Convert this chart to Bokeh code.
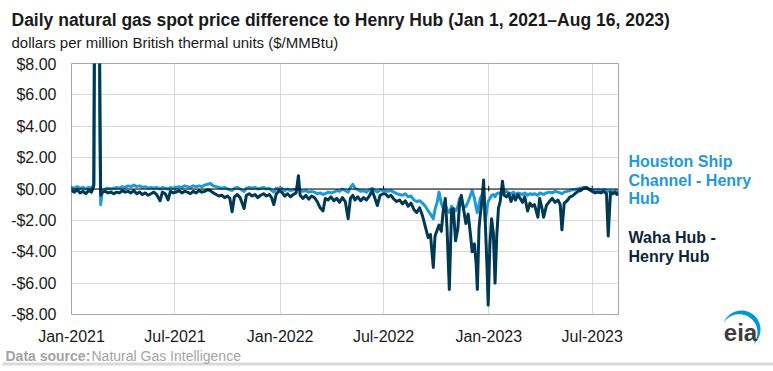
import numpy as np
import pandas as pd
from bokeh.plotting import figure
from bokeh.layouts import column, row
from bokeh.models import (Range1d, FixedTicker, DatetimeTickFormatter, Span, Label,
                          ColumnDataSource)
from bokeh.embed import file_html
from bokeh.resources import INLINE

# ---------------- data ----------------
dates = [
    "2021-01-01","2021-01-06","2021-01-11","2021-01-16","2021-01-21","2021-01-26","2021-01-31","2021-02-05","2021-02-09","2021-02-11","2021-02-14","2021-02-17","2021-02-19","2021-02-21","2021-02-24",
    "2021-03-01","2021-03-06","2021-03-11","2021-03-16","2021-03-21","2021-03-26","2021-03-31",
    "2021-04-05","2021-04-10","2021-04-15","2021-04-20","2021-04-25","2021-04-30",
    "2021-05-05","2021-05-10","2021-05-15","2021-05-20","2021-05-25","2021-05-30",
    "2021-06-05","2021-06-09","2021-06-14","2021-06-19","2021-06-23","2021-06-28",
    "2021-07-03","2021-07-08","2021-07-13","2021-07-18","2021-07-23","2021-07-28",
    "2021-08-02","2021-08-07","2021-08-12","2021-08-17","2021-08-22","2021-08-27",
    "2021-09-01","2021-09-06","2021-09-11","2021-09-16","2021-09-21","2021-09-26",
    "2021-10-01","2021-10-05","2021-10-09","2021-10-13","2021-10-18","2021-10-23","2021-10-30",
    "2021-11-03","2021-11-08","2021-11-13","2021-11-18","2021-11-23","2021-11-28",
    "2021-12-03","2021-12-08","2021-12-13","2021-12-17","2021-12-21","2021-12-25","2021-12-30",
    "2022-01-04","2022-01-09","2022-01-14","2022-01-19","2022-01-24","2022-01-29","2022-02-02","2022-02-05","2022-02-10","2022-02-15","2022-02-20","2022-02-25",
    "2022-03-02","2022-03-07","2022-03-12","2022-03-17","2022-03-21","2022-03-26","2022-03-31",
    "2022-04-05","2022-04-10","2022-04-15","2022-04-20","2022-04-25","2022-04-30",
    "2022-05-04","2022-05-08","2022-05-12","2022-05-17","2022-05-22","2022-05-27",
    "2022-06-01","2022-06-06","2022-06-11","2022-06-16","2022-06-20","2022-06-25","2022-06-30",
    "2022-07-04","2022-07-09","2022-07-14","2022-07-19","2022-07-24","2022-07-29",
    "2022-08-03","2022-08-08","2022-08-13","2022-08-18","2022-08-23","2022-08-28",
    "2022-09-02","2022-09-07","2022-09-12","2022-09-17","2022-09-21","2022-09-26","2022-09-29",
    "2022-10-03","2022-10-06","2022-10-10","2022-10-13","2022-10-17","2022-10-20","2022-10-24","2022-10-28","2022-10-31",
    "2022-11-04","2022-11-08","2022-11-11","2022-11-14","2022-11-18","2022-11-22","2022-11-26","2022-11-30",
    "2022-12-03","2022-12-07","2022-12-10","2022-12-12","2022-12-15","2022-12-17","2022-12-20","2022-12-23","2022-12-26","2022-12-29","2022-12-31",
    "2023-01-03","2023-01-06","2023-01-09","2023-01-12","2023-01-15","2023-01-18","2023-01-21","2023-01-25","2023-01-28",
    "2023-02-01","2023-02-05","2023-02-09","2023-02-13","2023-02-17","2023-02-21","2023-02-25",
    "2023-03-01","2023-03-05","2023-03-10","2023-03-14","2023-03-18","2023-03-22","2023-03-28","2023-03-31",
    "2023-04-04","2023-04-07","2023-04-12","2023-04-17","2023-04-22","2023-04-27",
    "2023-05-02","2023-05-06","2023-05-09","2023-05-13","2023-05-18","2023-05-23","2023-05-27",
    "2023-06-01","2023-06-06","2023-06-11","2023-06-16","2023-06-21","2023-06-26",
    "2023-07-01","2023-07-06","2023-07-11","2023-07-16","2023-07-21","2023-07-26","2023-07-29",
    "2023-08-02","2023-08-06","2023-08-10","2023-08-13","2023-08-16",
]

houston = [
    0.10,0.05,0.15,0.05,0.10,0.00,0.10,0.05,0.30,20,150,60,5,-1.0,-0.1,
    0.0,0.05,0.0,0.05,0.10,0.05,0.15,
    0.10,0.20,0.15,0.25,0.15,0.20,
    0.10,0.15,0.05,0.10,0.05,0.10,
    0.0,0.10,0.05,0.00,0.10,0.05,
    0.10,0.15,0.10,0.20,0.15,0.10,
    0.20,0.15,0.20,0.15,0.25,0.30,
    0.35,0.20,0.15,0.10,0.05,0.10,
    0.0,-0.05,-0.1,0.05,0.10,0.0,-0.15,
    0.05,0.10,0.05,0.10,0.0,0.05,
    0.10,0.0,0.05,-0.1,-0.2,0.05,0.0,
    0.05,-0.10,0.0,-0.10,-0.05,0.0,0.05,-0.10,-0.15,-0.10,-0.20,-0.15,
    -0.20,-0.30,-0.25,-0.35,-0.30,-0.20,-0.25,
    -0.20,-0.10,-0.15,0.0,-0.10,-0.20,
    0.10,0.30,0.05,-0.05,-0.15,-0.10,
    -0.20,-0.05,0.05,-0.10,-0.20,-0.05,-0.10,
    -0.10,-0.15,-0.10,-0.20,-0.30,-0.35,
    -0.40,-0.30,-0.50,-0.45,-0.70,-0.80,
    -0.75,-0.90,-1.10,-1.40,-1.60,-1.90,-1.30,
    -0.80,-0.20,-0.90,-1.20,-1.00,-1.30,-1.50,-1.10,-1.30,
    -1.40,-1.10,-0.60,-0.70,-1.20,-1.10,-0.80,-0.40,
    -0.10,-0.60,-1.20,-1.50,-1.00,-0.60,-0.40,-0.20,-2.10,-1.20,-0.80,
    -0.60,-0.40,-0.35,-0.50,-0.30,-0.25,-0.30,-0.10,-0.20,
    -0.15,-0.25,-0.30,-0.20,-0.35,-0.25,-0.30,
    -0.35,-0.25,-0.40,-0.30,-0.35,-0.30,-0.40,-0.25,
    -0.30,-0.35,-0.25,-0.20,-0.25,-0.15,
    -0.20,-0.25,-0.30,-0.20,-0.15,-0.10,-0.05,
    -0.05,0.00,0.05,0.10,0.05,0.00,
    -0.05,-0.10,-0.05,-0.10,-0.05,-0.10,-0.15,
    -0.10,-0.15,-0.10,-0.15,-0.10,
]

waha = [
    -0.10,-0.20,-0.05,-0.25,-0.15,-0.30,-0.10,-0.20,0.20,15,180,100,10,-0.40,-0.20,
    -0.15,-0.25,-0.20,-0.30,-0.20,-0.25,-0.10,
    -0.20,-0.15,-0.25,-0.10,-0.30,-0.20,
    -0.35,-0.25,-0.40,-0.30,-0.20,-0.35,
    -0.75,-0.20,-0.30,-0.70,-0.15,-0.25,
    -0.20,-0.10,-0.25,-0.15,-0.20,-0.30,
    -0.15,-0.25,-0.10,-0.20,-0.15,-0.05,
    -0.10,-0.25,-0.35,-0.45,-0.40,-0.55,
    -0.45,-0.60,-1.45,-0.50,-0.35,-0.55,-1.25,
    -0.40,-0.30,-0.45,-0.35,-0.55,-0.40,
    -0.30,-0.45,-0.35,-0.55,-1.0,-0.35,-0.10,
    -0.20,-0.45,-0.30,-0.50,-0.35,-0.25,0.85,-0.40,-0.60,-0.40,-0.65,-0.45,
    -0.55,-0.80,-1.20,-1.40,-0.60,-0.70,-0.50,
    -0.75,-0.60,-0.85,-0.55,-0.80,-1.90,
    -0.60,-0.40,-0.70,-0.50,-0.75,-0.55,
    -0.70,-0.45,-0.10,-0.60,-1.05,-0.40,-0.30,
    -0.30,-0.50,-0.40,-0.65,-0.80,-0.70,
    -0.95,-0.75,-1.10,-0.90,-1.30,-1.50,
    -1.20,-1.70,-2.40,-3.10,-2.90,-5.00,-3.00,
    -2.60,-2.30,-2.70,-1.50,-0.60,-2.50,-6.40,-1.30,-1.25,
    -3.30,-2.50,-0.90,-0.40,-1.30,-2.20,-1.60,-2.90,
    -4.00,-3.50,-4.80,-6.40,-2.50,-1.70,-0.80,0.57,-2.20,-5.00,-7.40,
    -3.50,-1.90,-2.80,-6.00,-3.00,-1.20,-0.80,0.50,-0.40,
    -0.50,-0.30,-0.80,-0.40,-0.70,-0.35,-0.60,
    -0.85,-0.50,-1.40,-0.90,-1.10,-1.00,-1.80,-0.60,
    -1.20,-1.80,-1.05,-0.80,-0.60,-0.85,
    -0.70,-1.00,-2.60,-0.90,-0.75,-0.50,-0.45,
    -0.30,-0.15,-0.10,0.05,0.10,-0.05,
    -0.15,-0.25,-0.20,-0.25,-0.15,-0.30,-3.00,
    -0.20,-0.30,-0.20,-0.35,-0.25,
]

x_tick_dates = ["2021-01-01","2021-07-01","2022-01-01","2022-07-01","2023-01-01","2023-07-01"]
y_ticks = [-8, -6, -4, -2, 0, 2, 4, 6, 8]
y_tick_labels = ["-$8.00","-$6.00","-$4.00","-$2.00","$0.00","$2.00","$4.00","$6.00","$8.00"]

houston_label_lines = ["Houston Ship", "Channel - Henry", "Hub"]
waha_label_lines = ["Waha Hub -", "Henry Hub"]

title_text = "Daily natural gas spot price difference to Henry Hub (Jan 1, 2021\u2013Aug 16, 2023)"
subtitle_text = "dollars per million British thermal units ($/MMBtu)"
source_bold = "Data source:"
source_text = "Natural Gas Intelligence"

assert len(dates) == len(houston) == len(waha)

# ---------------- styling ----------------
FONT = "Liberation Sans"
C_HOU = "#1f9ad6"
C_WAHA = "#003953"
C_TEXT = "#1a1a1a"
C_SRC = "#a3a3a3"

W_TOTAL, H_TOTAL = 773, 371
H_TOP, H_BOT = 55, 24
H_MID = H_TOTAL - H_TOP - H_BOT
W_MAIN = 626
W_RIGHT = W_TOTAL - W_MAIN


def blank(w, h):
    f = figure(width=w, height=h, x_range=Range1d(0, w), y_range=Range1d(0, h),
               x_axis_type=None, y_axis_type=None, output_backend="svg",
               toolbar_location=None, min_border=0)
    f.outline_line_color = None
    f.background_fill_color = "white"
    f.border_fill_color = "white"
    return f


def lab(f, x, y, text, size, color, bold=False, align="left"):
    f.add_layout(Label(x=x, y=y, text=text, text_font=FONT, text_font_size=size,
                       text_color=color, text_font_style="bold" if bold else "normal",
                       text_align=align, text_baseline="middle"))

# ---------------- top: title + subtitle ----------------
top = blank(W_TOTAL, H_TOP)
lab(top, 11, H_TOP - 19, title_text, "17.5px", C_TEXT, bold=True)
lab(top, 11, H_TOP - 42, subtitle_text, "15px", C_TEXT)

# ---------------- main chart ----------------
src = ColumnDataSource(dict(date=pd.to_datetime(dates), houston=houston, waha=waha))

p = figure(width=W_MAIN, height=H_MID, x_axis_type="datetime", output_backend="svg",
           toolbar_location=None,
           x_range=Range1d(pd.Timestamp("2021-01-01"), pd.Timestamp("2023-08-16")),
           y_range=Range1d(-8, 8))
p.min_border_left = 71
p.min_border_right = W_MAIN - 618
p.min_border_top = 63 - H_TOP
p.min_border_bottom = (H_TOP + H_MID) - 317
p.background_fill_color = "white"
p.border_fill_color = "white"
p.outline_line_color = "#a6a6a6"
p.outline_line_width = 1

tick_ms = [pd.Timestamp(d).value / 1e6 for d in x_tick_dates]
p.xaxis.ticker = FixedTicker(ticks=tick_ms)
fmt = "%b-%Y"
p.xaxis.formatter = DatetimeTickFormatter(years=fmt, months=fmt, days=fmt, hours=fmt,
                                          minutes=fmt, seconds=fmt, milliseconds=fmt,
                                          microseconds=fmt, minsec=fmt, hourmin=fmt)
p.yaxis.ticker = FixedTicker(ticks=y_ticks)
p.yaxis.major_label_overrides = {t: s for t, s in zip(y_ticks, y_tick_labels)}

for ax in (p.xaxis[0], p.yaxis[0]):
    ax.axis_line_color = None
    ax.major_tick_line_color = None
    ax.minor_tick_line_color = None
    ax.major_tick_out = 0
    ax.major_tick_in = 0
    ax.minor_tick_out = 0
    ax.minor_tick_in = 0
    ax.major_label_text_font = FONT
    ax.major_label_text_font_size = "16px"
    ax.major_label_text_color = C_TEXT
p.xaxis.major_label_standoff = 13
p.yaxis.major_label_standoff = 15

p.xgrid.grid_line_color = "#d9d9d9"
p.ygrid.grid_line_color = "#d9d9d9"

# zero line with its small tick marks
p.add_layout(Span(location=0, dimension="width", line_color="black", line_width=1))
tick_dt = pd.to_datetime(x_tick_dates)
p.segment(x0=tick_dt, y0=[-0.15] * len(tick_dt), x1=tick_dt, y1=[0.2] * len(tick_dt),
          line_color="black", line_width=1)

p.line("date", "houston", source=src, line_color=C_HOU, line_width=3, line_join="round")
p.line("date", "waha", source=src, line_color=C_WAHA, line_width=3, line_join="round")

# ---------------- right: series labels + logo ----------------
right = blank(W_RIGHT, H_MID)
base = H_TOP + H_MID
for i, t in enumerate(houston_label_lines):
    lab(right, 628 - W_MAIN, base - (161 + i * 18.7), t, "16px", C_HOU, bold=True)
for i, t in enumerate(waha_label_lines):
    lab(right, 628 - W_MAIN, base - (237 + i * 19), t, "16px", "#0d2638", bold=True)

# eia logo: letters plus a blue crescent swoosh
lab(right, 740 - W_MAIN, base - 332, "eia", "24px", "#3c3c3c", bold=True, align="center")
cx, cy, R = 741 - W_MAIN, base - 329, 19.0
t = np.linspace(np.radians(160), np.radians(-55), 60)
wdt = 4.5 * np.sin(np.pi * (t - t[0]) / (t[-1] - t[0]))
xo, yo = cx + R * np.cos(t), cy + R * np.sin(t)
xi, yi = cx + (R - wdt) * np.cos(t), cy + (R - wdt) * np.sin(t)
right.patch(np.concatenate([xo, xi[::-1]]), np.concatenate([yo, yi[::-1]]),
            fill_color="#0096d7", line_color=None)

# ---------------- bottom: source + rule ----------------
bot = blank(W_TOTAL, H_BOT)
lab(bot, 5, H_TOTAL - 355, source_bold, "14px", C_SRC, bold=True)
lab(bot, 91, H_TOTAL - 355, source_text, "14px", C_SRC)
bot.quad(left=[2], right=[W_TOTAL], bottom=[H_TOTAL - 365], top=[H_TOTAL - 362],
         fill_color="#d9d9d9", line_color=None)

layout = column(top, row(p, column(right)), bot)
open("out.html", "w").write(file_html(layout, INLINE))
